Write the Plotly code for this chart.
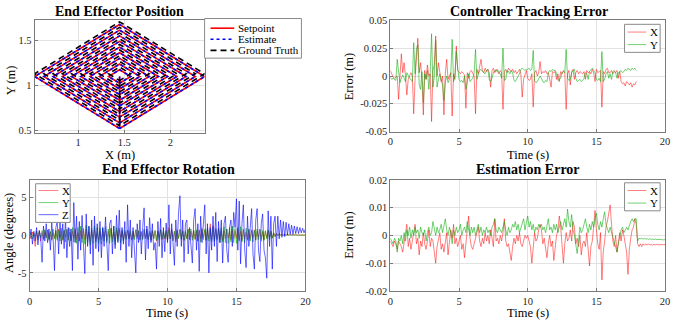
import plotly.graph_objects as go

W, H = 676, 326
FONT = "Liberation Serif, DejaVu Serif, serif"
INK = "#262626"
GRID = "#e2e2e2"
DT = 0.1  # sample period of the logged signals (s)

# ---- End effector position: spiral waypoints (m)
setpoint_x = [1.45,
              1.45, 1.57, 1.45, 1.33, 1.45,
              1.45, 1.67, 1.45, 1.23, 1.45,
              1.45, 1.77, 1.45, 1.13, 1.45,
              1.45, 1.87, 1.45, 1.03, 1.45,
              1.45, 1.97, 1.45, 0.93, 1.45,
              1.45, 2.07, 1.45, 0.83, 1.45,
              1.45, 2.17, 1.45, 0.73, 1.45,
              1.45, 2.27, 1.45, 0.63, 1.45,
              1.45, 2.37, 1.45, 0.53, 1.45]
setpoint_y = [1.10,
              1.025, 1.10, 1.175, 1.10, 1.025,
              0.962, 1.10, 1.238, 1.10, 0.962,
              0.900, 1.10, 1.300, 1.10, 0.900,
              0.837, 1.10, 1.363, 1.10, 0.837,
              0.775, 1.10, 1.425, 1.10, 0.775,
              0.712, 1.10, 1.488, 1.10, 0.712,
              0.650, 1.10, 1.550, 1.10, 0.650,
              0.587, 1.10, 1.613, 1.10, 0.587,
              0.525, 1.10, 1.675, 1.10, 0.525]
estimate_x = list(setpoint_x)
estimate_y = list(setpoint_y)
truth_x = [1.45,
           1.45, 1.57, 1.45, 1.33, 1.45,
           1.45, 1.67, 1.45, 1.23, 1.45,
           1.45, 1.77, 1.45, 1.13, 1.45,
           1.45, 1.87, 1.45, 1.03, 1.45,
           1.45, 1.97, 1.45, 0.93, 1.45,
           1.45, 2.07, 1.45, 0.83, 1.45,
           1.45, 2.17, 1.45, 0.73, 1.45,
           1.45, 2.27, 1.45, 0.63, 1.45,
           1.45, 2.37, 1.45, 0.53, 1.45]
truth_y = [1.07,
           1.055, 1.130, 1.205, 1.130, 1.055,
           0.992, 1.130, 1.268, 1.130, 0.992,
           0.930, 1.130, 1.330, 1.130, 0.930,
           0.867, 1.130, 1.393, 1.130, 0.867,
           0.805, 1.130, 1.455, 1.130, 0.805,
           0.742, 1.130, 1.518, 1.130, 0.742,
           0.680, 1.130, 1.580, 1.130, 0.680,
           0.617, 1.130, 1.643, 1.130, 0.617,
           0.555, 1.130, 1.705, 1.130, 0.555]

# ---- Controller tracking error (mm), 0.1 s samples
track_x_mm = [5, 2, -1, -2, -1, 0, -21, 4, 20, 3,
              12, 0, -17, -3, 1, 3, 0, -34, -2, 15,
              34, 3, 12, -2, -35, 5, -3, 10, 0, 2,
              -41, 5, 10, 36, 0, 12, 2, -5, 0, -35,
              2, 15, -3, 0, 3, -36, 2, -3, 27, 5,
              3, 2, 4, 2, 1, -29, 3, -2, 4, 5,
              3, 0, -34, 6, 2, 8, 15, 5, 3, 7,
              4, 6, 3, -10, 5, 7, 3, 6, 4, 2,
              5, 3, -30, 4, 6, 3, 7, 5, 4, 6,
              3, 5, 2, 4, 6, 2, -19, -3, 2, 5,
              -2, -4, -3, 2, -28, 3, 5, 0, 3, 13,
              2, 4, 3, 5, 2, 3, -3, -10, 4, 3,
              4, -3, 2, -5, 4, 2, 5, 3, -30, 2,
              5, -8, 4, 6, -3, 3, 5, 2, 4, 3,
              2, 4, -3, 5, 3, 4, 2, 6, 3, -5,
              6, 3, 4, 5, -28, 4, 2, 6, 7, 3,
              3, 5, 2, 4, 3, 5, -2, 4, -5, -7,
              -6, -9, -5, -7, -8, -6, -10, -7, -8, -5]
track_y_mm = [-1, -3, -2, -3, -4, 15, 2, -6, -2, 1,
              -2, -5, 3, 0, -2, -3, -5, 30, 2, 24,
              28, -8, -12, 4, -24, 2, -3, 5, -12, 3,
              38, -10, 0, 32, -10, -3, 2, -4, -8, -22,
              -5, 0, -6, -3, 2, 33, -5, 0, 22, 8,
              -3, -5, -4, -6, 0, -12, -4, 2, -5, -3,
              -2, 3, 24, -3, 2, 5, 6, 4, 3, 2,
              5, 6, -3, -5, -2, 3, 5, 4, 6, 3,
              2, -2, 25, -4, -3, 5, 4, 2, 5, 3,
              -4, -5, -3, 0, 2, 6, 7, 6, 5, 6,
              6, 7, 5, 6, 23, -4, -6, -5, -3, 0,
              -2, -5, -6, -4, -5, 3, 5, 4, 6, 5,
              5, 2, -4, -3, -2, 3, 4, 3, 24, -2,
              -4, -3, 3, 5, 6, -2, -5, -4, -3, -5,
              -4, -2, 3, 2, -3, 4, 6, 7, 5, 3,
              -3, -4, -2, -5, 22, -5, -3, 2, 4, -2,
              2, -3, 4, 5, 3, -2, 3, 4, 5, 3,
              4, 6, 5, 7, 6, 5, 7, 6, 7, 5]

# ---- End effector rotation (degrees), 0.1 s samples
rot_x_deg = [0.2, -0.5, 0.4, -0.3, -1.5, 0.5, -0.4, 0.6, -0.8, 0.3,
             -0.6, 0.5, -0.3, 0.7, -0.5, 0.4, -0.7, 0.3, -0.4, 0.6,
             -0.5, 0.8, -0.4, 0.5, -0.7, 0.6, -0.3, 0.7, -0.6, 0.4,
             -0.7, 0.5, -0.4, 0.9, -0.6, 0.3, -0.8, 0.6, -0.5, 0.7,
             -0.6, 0.8, -0.5, 0.4, -0.9, 0.6, -0.4, 0.7, -0.5, 0.3,
             -0.7, 0.5, -0.6, 0.8, -0.3, 0.6, -0.7, 0.5, -0.4, 0.9,
             -0.5, 0.4, -0.8, 0.6, -0.5, 0.7, -0.3, 0.5, -0.6, 0.4,
             -0.4, 0.6, -0.5, 0.3, -0.6, 0.5, -0.4, 0.7, -0.3, 0.5,
             -0.6, 0.4, -0.5, 0.6, -0.4, 0.8, -0.5, 0.3, -0.7, 0.5,
             -0.4, 0.6, -0.8, 0.5, -0.3, 0.7, -0.6, 0.4, -0.5, 0.6,
             -0.7, 1.0, -0.5, 0.8, -0.6, 0.5, -0.9, 0.6, -0.4, 0.7,
             -0.5, 0.6, -0.7, 0.4, -0.5, 0.8, -0.6, 0.5, -0.4, 0.6,
             -0.6, 0.5, -0.8, 0.7, -0.5, 0.9, -0.4, 0.6, -0.7, 0.8,
             -0.5, 1.5, -0.6, 1.2, -0.8, 0.7, -0.5, 0.9, -0.6, 0.5,
             -0.7, 0.6, -0.5, 0.8, -0.4, 0.5, -0.6, 0.7, -0.5, 0.6,
             -0.4, 0.8, -0.6, 0.5, -0.7, 0.6, -0.5, 0.4, -0.6, 0.7,
             -0.5, 0.6, -0.4, 0.7, -0.6, 0.5, -0.3, 0.8, -0.5, 0.4,
             -0.6, 0.5, -0.4, 0.6, -0.3, 0.5, -0.4, 0.3, -0.2, 0.2,
             0.0, 0.2, 0.0, 0.1, 0.0, 0.1, 0.0, 0.1, 0.0, 0.1,
             0.0, 0.1, 0.0, 0.1, 0.0, 0.0, 0.1, 0.0, 0.0, 0.0,
             0.0]
rot_y_deg = [-0.3, 0.4, -0.5, 0.3, -0.2, 0.5, -0.6, 0.4, -0.3, 0.6,
             -0.5, 0.7, -0.4, 0.6, -0.7, 0.5, -0.6, 0.8, -0.5, 0.6,
             -0.7, 0.6, -0.8, 0.9, -0.6, 0.7, -0.9, 0.8, -0.7, 0.9,
             -0.8, 1.0, -0.9, 0.7, -1.1, 1.0, -0.8, 1.2, -1.0, 0.9,
             -1.2, 1.3, -1.0, 1.1, -1.3, 0.9, -1.1, 1.2, -0.9, 1.0,
             -1.1, 0.9, -1.2, 1.0, -0.8, 1.1, -1.0, 0.8, -1.1, 0.9,
             -0.9, 1.2, -1.3, 1.0, -0.8, 0.9, -1.0, 0.7, -0.8, 0.6,
             -0.6, 0.7, -0.5, 0.6, -0.7, 0.5, -0.6, 0.7, -0.5, 0.6,
             -0.7, 0.5, -0.6, 0.8, -0.5, 0.7, -0.6, 0.5, -0.7, 0.6,
             -0.5, 0.6, -0.7, 0.5, -0.6, 0.7, -0.5, 0.6, -0.4, 0.5,
             -0.6, 0.7, -0.5, 0.6, -0.8, 0.5, -0.6, 0.7, -0.5, 0.8,
             -0.6, 0.5, -0.7, 0.6, -0.5, 0.7, -0.6, 0.8, -0.7, 0.6,
             -0.5, 0.7, -0.8, 0.6, -0.9, 0.7, -0.6, 0.8, -0.7, 0.9,
             -0.8, 0.7, -0.9, 1.0, -0.8, 0.9, -0.7, 0.8, -1.0, 0.9,
             -0.9, 1.1, -1.0, 0.8, -1.1, 1.0, -0.9, 1.2, -1.0, 0.9,
             -1.1, 1.0, -0.8, 1.1, -0.9, 0.8, -1.0, 0.9, -0.7, 0.8,
             -0.8, 0.7, -0.9, 0.6, -0.7, 0.8, -0.6, 0.7, -0.8, 0.6,
             -0.7, 0.6, -0.5, 0.7, -0.6, 0.5, -0.4, 0.3, -0.2, 0.2,
             -0.1, 0.1, 0.0, 0.1, 0.0, 0.0, 0.1, 0.0, 0.0, 0.0,
             0.0, 0.0, 0.1, 0.0, 0.0, 0.0, 0.0, 0.0, 0.0, 0.0,
             0.0]
rot_z_deg = [-0.5, 0.8, -1.2, 0.5, -0.8, 1.0, -1.3, 0.6, -0.4, -3.6,
             1.2, -0.8, 1.5, -1.0, 0.8, -2.0, 1.6, -0.5, -4.7, 1.0,
             1.8, -2.5, 2.0, -1.2, 1.5, -1.8, 2.2, -3.0, 1.0, -1.5,
             0.8, -4.7, 4.3, -1.0, 2.5, -3.2, 1.8, -2.0, 2.6, -1.5,
             -5.1, 2.8, -1.5, 1.2, -2.5, 2.0, -4.0, 2.5, -1.8, 1.5,
             -2.2, 1.8, -3.0, 1.0, -1.5, 2.4, -2.0, -4.7, 1.5, 2.0,
             -2.5, 1.2, -1.8, 2.6, -1.0, 3.3, -2.0, 1.0, -1.2, 1.8,
             -3.6, 4.0, -1.5, 2.0, -3.0, 1.0, -2.0, -5.0, 1.5, -1.0,
             2.0, -2.5, 1.0, 3.6, -3.3, 1.2, -1.8, 2.3, -1.0, 1.5,
             -2.0, -1.0, -4.5, 1.8, -1.5, 2.2, -3.0, 1.0, -2.2, 1.6,
             -1.0, 4.0, -2.5, 1.5, -1.0, -4.0, 2.0, -1.5, 3.0, 5.2,
             -1.5, 2.0, -3.6, 1.5, 2.0, -2.5, 1.0, -1.5, -3.7, 2.0,
             3.5, -2.0, 1.5, -4.8, 2.5, -1.0, 1.8, 4.0, -2.5, 1.5,
             -5.0, 1.0, -2.0, 2.5, -1.5, 3.0, -3.5, 1.8, -1.0, 2.0,
             -3.7, 1.5, 2.5, -2.0, -3.6, 1.0, 2.0, -1.5, 3.0, 1.0,
             4.8, -2.0, 4.5, -3.8, 1.5, 4.0, -2.0, -4.3, 2.5, -1.5,
             1.0, 3.5, -2.5, -4.5, 2.0, 3.5, -2.0, -3.5, 1.5, 2.8,
             -2.0, -3.0, -5.7, 3.2, -1.5, 2.5, -4.5, 1.5, 2.5, -1.5,
             2.5, -0.5, 2.0, -0.3, 1.8, -0.2, 1.7, 0.0, 1.5, 0.1,
             1.3, 0.1, 1.2, 0.2, 1.1, 0.2, 1.0, 0.3, 0.9, 0.3,
             0.8]

# ---- Estimation error (mm), 0.1 s samples
est_x_mm = [-2, -3, -4, -2, -3, -5, -2, -3, -4, -6,
            -2, 1, 4, -4, -1, -5, -2, 0, 4, -3,
            -1, -7, -2, -4, 1, -3, -5, -2, 2, -4,
            -1, -2, -6, -10, -4, -2, 1, -5, -3, -6,
            -2, 1, -7, -3, 2, -1, 4, -3, -1, -4,
            -2, 0, -5, -3, -8, -4, 2, 7, -1, -4,
            -5, -3, -1, 0, 3, -2, -4, -1, -3, 1,
            -2, 0, -3, 2, -1, -4, 6, -2, -1, -3,
            0, -2, 1, 6, -2, -4, -3, -6, -9, -4,
            -1, -3, 0, -2, 1, -3, -4, -2, 0, -1,
            0, -2, -4, -10, -5, 1, -2, -1, 2, 4,
            2, -3, -1, -5, -8, -3, 0, -4, -2, -9,
            -3, 0, 2, 7, 3, -4, -10, -3, 1, -2,
            -1, 2, -2, 5, 3, -3, -1, -4, 0, -7,
            -3, -2, -4, 1, -7, -11, -4, -2, 3, 9,
            2, -3, -5, 1, -16, -6, -2, 3, 5, 8,
            11, 4, -2, -4, 0, -6, -3, 1, -2, 2,
            0, -4, -6, -14, -5, -1, 2, 3, 6, 4,
            -3, -4, -3, -4, -3, -3.5, -3, -3.5, -3, -3.5,
            -3.2, -3.5, -3.2, -3.4, -3.2, -3.4, -3.3, -3.4, -3.3, -3.3,
            -3.3]
est_y_mm = [-1, -2, -3, -1, -2, -6, -1, -2, 0, -3,
            1, -2, 2, 0, 3, -1, 2, 0, 3, 1,
            2, -1, 3, 1, 0, 2, -2, 1, 3, 0,
            1, 5, 2, 0, 3, 1, 2, 4, 1, 3,
            6, 2, 0, 3, 1, -3, 2, 0, 3, 1,
            2, 4, 0, 2, 3, 1, 5, 2, 0, 3,
            1, 3, 0, 2, 4, 1, 3, 0, 2, 1,
            3, 1, 2, 0, 3, 4, 6, 2, 1, 3,
            2, 1, 3, 5, 2, 0, 3, 1, 2, 4,
            3, 5, 2, 4, 1, 3, 5, 6, 2, 4,
            7, 3, 5, 2, 4, 1, 3, 2, 4, 3,
            4, 2, 3, 1, 4, 6, 2, 3, 1, 4,
            2, 4, 1, 3, 5, 2, 4, 6, 3, 9.5,
            5, 3, 7.5, 2, 0, -3, -6.5, -2, 3, 1,
            2, 4, 6, 3, 1, 4, 2, 5, 3, 6,
            8, 4, 2, 5, 3, 6, 8.5, 4, 2, 1,
            3, 1, -1, -3, -4, -6, -3, 0, 2, 3,
            1, 2, 3, 2, 4, 5, 6, 5, 6, 6,
            -2, -1, -1.2, -1.0, -1.3, -1.1, -1.3, -1.2, -1.4, -1.2,
            -1.4, -1.3, -1.5, -1.3, -1.5, -1.4, -1.5, -1.4, -1.6, -1.5,
            -1.5]

RED = "rgba(255,0,0,0.5)"
GREEN = "rgba(0,170,0,0.55)"
BLUE = "rgba(0,0,255,0.6)"
GT_DASH = "6px,4px"


def times(values):
    return [round(i * DT, 1) for i in range(len(values))]


def mm(values):
    return [v / 1000.0 for v in values]


def px(x):
    return x / W


def py(y):
    return 1 - y / H


fig = go.Figure()


def line_trace(x, y, color, width, dash, ax):
    fig.add_trace(go.Scatter(x=x, y=y, mode="lines", showlegend=False, hoverinfo="skip",
                             line=dict(color=color, width=width, dash=dash),
                             xaxis="x" + ax, yaxis="y" + ax))


# position plot
line_trace(setpoint_x, setpoint_y, "red", 1.6, "solid", "")
line_trace(estimate_x, estimate_y, "blue", 1.6, "dot", "")
line_trace(truth_x, truth_y, "black", 1.6, GT_DASH, "")

# tracking error
line_trace(times(track_x_mm), mm(track_x_mm), RED, 1, "solid", "2")
line_trace(times(track_y_mm), mm(track_y_mm), GREEN, 1, "solid", "2")

# rotation
line_trace(times(rot_x_deg), rot_x_deg, RED, 1, "solid", "3")
line_trace(times(rot_y_deg), rot_y_deg, GREEN, 1, "solid", "3")
line_trace(times(rot_z_deg), rot_z_deg, BLUE, 1, "solid", "3")

# estimation error
line_trace(times(est_x_mm), mm(est_x_mm), RED, 1, "solid", "4")
line_trace(times(est_y_mm), mm(est_y_mm), GREEN, 1, "solid", "4")

tick_font = dict(family=FONT, size=10.5, color=INK)


def axis(domain, rng, tickvals, ticktext, anchor):
    return dict(domain=domain, range=rng, tickvals=tickvals, ticktext=ticktext,
                anchor=anchor, showline=True, linecolor="#7a7a7a", linewidth=1,
                mirror=True, ticks="inside", ticklen=3, tickcolor="#7a7a7a",
                showgrid=True, gridcolor=GRID, gridwidth=1, zeroline=False,
                tickfont=tick_font, fixedrange=True)


time_ticks = [0, 5, 10, 15, 20]
time_text = ["0", "5", "10", "15", "20"]

layout_axes = dict(
    xaxis=axis([px(32), px(204)], [0.53, 2.37], [1, 1.5, 2], ["1", "1.5", "2"], "y"),
    yaxis=axis([py(132), py(16)], [0.48, 1.72], [0.5, 1, 1.5], ["0.5", "1", "1.5"], "x"),
    xaxis2=axis([px(392), px(670)], [0, 20], time_ticks, time_text, "y2"),
    yaxis2=axis([py(131), py(16)], [-0.05, 0.05],
                [-0.05, -0.025, 0, 0.025, 0.05], ["-0.05", "-0.025", "0", "0.025", "0.05"], "x2"),
    xaxis3=axis([px(27), px(306)], [0, 20], time_ticks, time_text, "y3"),
    yaxis3=axis([py(296), py(181)], [-7.4, 7.3], [-5, 0, 5], ["-5", "0", "5"], "x3"),
    xaxis4=axis([px(392), px(670)], [0, 20], time_ticks, time_text, "y4"),
    yaxis4=axis([py(296), py(181)], [-0.02, 0.02],
                [-0.02, -0.01, 0, 0.01, 0.02], ["-0.02", "-0.01", "0", "0.01", "0.02"], "x4"),
)

annotations = []
shapes = []


def label(text, x, y, size=12.5, bold=False, angle=0, anchor="center"):
    if bold:
        text = "<b>" + text + "</b>"
    annotations.append(dict(text=text, x=px(x), y=py(y), xref="paper", yref="paper",
                            xanchor=anchor, yanchor="middle", showarrow=False,
                            textangle=angle, font=dict(family=FONT, size=size, color="black")))


def legend_box(x0, y0, x1, y1):
    shapes.append(dict(type="rect", xref="paper", yref="paper", layer="above",
                       x0=px(x0), x1=px(x1), y0=py(y1), y1=py(y0),
                       line=dict(color="#8a8a8a", width=1), fillcolor="white"))


def legend_entry(x0, x1, y, color, width, dash, text):
    shapes.append(dict(type="line", xref="paper", yref="paper", layer="above",
                       x0=px(x0), x1=px(x1), y0=py(y), y1=py(y),
                       line=dict(color=color, width=width, dash=dash)))
    label(text, x1 + 2, y, size=11, anchor="left")


label("End Effector Position", 118, 7, 14, True)
label("Controller Tracking Error", 532, 7, 14, True)
label("End Effector Rotation", 167, 170, 14, True)
label("Estimation Error", 531, 170, 14, True)
label("X (m)", 118, 155)
label("Y (m)", 8, 78, angle=-90)
label("Time (s)", 531, 155)
label("Error (m)", 350, 74, angle=-90)
label("Time (s)", 166, 319)
label("Angle (degrees)", 6, 236, angle=-90)
label("Time (s)", 531, 319)
label("Error (m)", 350, 238, angle=-90)

# legends (drawn as MATLAB-style boxes)
legend_box(204, 14, 302, 55)
legend_entry(210, 234, 24, "red", 1.6, "solid", "Setpoint")
legend_entry(210, 234, 35.5, "blue", 1.6, "dot", "Estimate")
legend_entry(210, 234, 47, "black", 1.6, GT_DASH, "Ground Truth")

legend_box(629, 20, 665, 49)
legend_entry(632, 651, 28, RED, 1, "solid", "X")
legend_entry(632, 651, 41, GREEN, 1, "solid", "Y")

legend_box(33, 185, 68, 225)
legend_entry(36, 56, 192, RED, 1, "solid", "X")
legend_entry(36, 56, 204.5, GREEN, 1, "solid", "Y")
legend_entry(36, 56, 217, BLUE, 1, "solid", "Z")

legend_box(629, 184, 665, 213)
legend_entry(632, 651, 192, RED, 1, "solid", "X")
legend_entry(632, 651, 205, GREEN, 1, "solid", "Y")

fig.update_layout(
    width=W, height=H,
    margin=dict(l=0, r=0, t=0, b=0),
    paper_bgcolor="white", plot_bgcolor="white",
    font=dict(family=FONT, color=INK),
    showlegend=False,
    annotations=annotations,
    shapes=shapes,
    **layout_axes,
)

fig.write_html("out.html", config={"displayModeBar": False},
               post_script="document.body.style.margin='0px';")
